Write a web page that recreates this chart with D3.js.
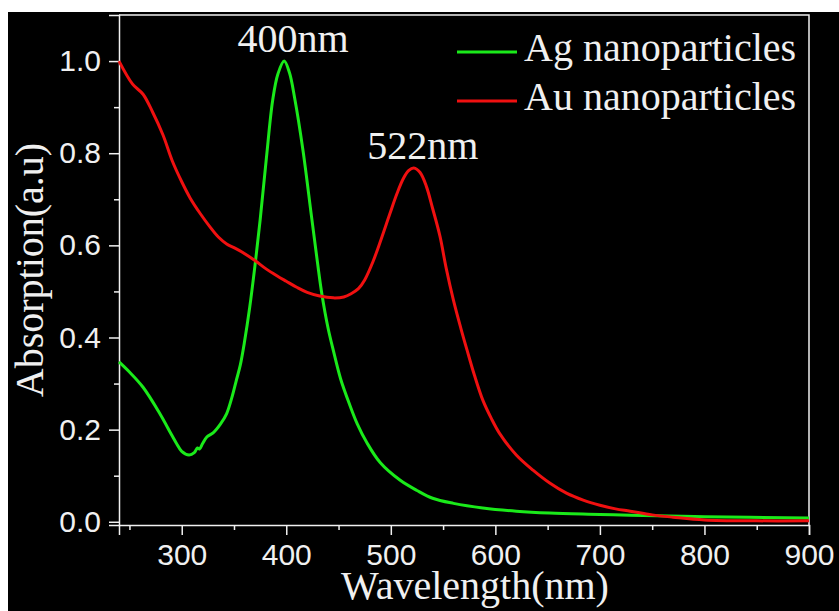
<!DOCTYPE html>
<html>
<head>
<meta charset="utf-8">
<script src="https://cdn.jsdelivr.net/npm/d3@7"></script>
<style>
  body { margin: 0; background: #fff; }
  svg { display: block; }
</style>
</head>
<body>
<div id="chart"></div>
<script>
// Ag nanoparticles spectrum
const agWavelength = [240, 250, 263, 279, 290, 295, 300, 307, 312, 315, 317, 320, 324, 330, 337, 343, 348, 352, 356, 360, 365, 370, 375, 381, 387, 392, 398, 403, 408, 416, 424, 430, 434, 440, 445, 452, 461, 468, 477, 490, 509, 525, 540, 560, 588, 620, 652, 700, 729, 800, 900];
const agAbsorption = [0.347, 0.325, 0.292, 0.235, 0.19, 0.17, 0.153, 0.145, 0.15, 0.16, 0.158, 0.17, 0.184, 0.193, 0.212, 0.235, 0.27, 0.305, 0.34, 0.39, 0.465, 0.555, 0.655, 0.79, 0.915, 0.972, 1.0, 0.975, 0.92, 0.806, 0.665, 0.56, 0.495, 0.42, 0.372, 0.31, 0.252, 0.212, 0.172, 0.128, 0.09, 0.068, 0.051, 0.04, 0.03, 0.023, 0.019, 0.016, 0.014, 0.011, 0.008];

// Au nanoparticles spectrum
const auWavelength = [240, 253, 263, 272, 282, 291, 300, 308, 318, 327, 335, 343, 350, 358, 370, 380, 391, 400, 410, 420, 432, 445, 455, 462, 469, 475, 483, 491, 499, 506, 512, 517, 522, 528, 534, 540, 547, 553, 560, 567, 573, 580, 588, 596, 604, 620, 636, 652, 668, 684, 700, 715, 729, 750, 770, 800, 850, 900];
const auAbsorption = [1.0, 0.95, 0.928, 0.89, 0.84, 0.783, 0.738, 0.703, 0.668, 0.64, 0.618, 0.603, 0.595, 0.585, 0.567, 0.55, 0.534, 0.522, 0.509, 0.498, 0.49, 0.486, 0.488, 0.495, 0.506, 0.525, 0.565, 0.615, 0.668, 0.713, 0.745, 0.762, 0.768, 0.758, 0.728, 0.68, 0.62, 0.55, 0.48, 0.42, 0.372, 0.318, 0.264, 0.225, 0.192, 0.145, 0.112, 0.084, 0.062, 0.047, 0.036, 0.028, 0.023, 0.015, 0.01, 0.004, 0.002, 0.002];

const xMajor = [300, 400, 500, 600, 700, 800, 900];
const xMinor = [250, 350, 450, 550, 650, 750, 850];
const yMajor = [0.0, 0.2, 0.4, 0.6, 0.8, 1.0];
const yMinor = [0.1, 0.3, 0.5, 0.7, 0.9];

const seriesNames = ['Ag nanoparticles', 'Au nanoparticles'];
const peakLabels = [
  { text: '400nm', wl: 398, value: 1.0 },
  { text: '522nm', wl: 522, value: 0.768 }
];

function drawChart(selector) {
  const width = 839;
  const height = 611;
  const plotLeft = 119, plotRight = 809, plotTop = 15, plotBottom = 525;

  const green = '#1aea1a';
  const red = '#f01010';
  const white = '#f0f0f0';
  const serif = '"Liberation Serif", "Times New Roman", serif';

  const svg = d3.select(selector)
    .append('svg')
      .attr('width', width)
      .attr('height', height);

  // black backdrop
  svg.append('rect')
      .attr('x', 8)
      .attr('y', 12)
      .attr('width', width - 8)
      .attr('height', height - 12)
      .attr('fill', '#000');

  const x = d3.scaleLinear()
    .domain([240, 900])
    .range([plotLeft, plotRight]);

  const y = d3.scaleLinear()
    .domain([-0.007, 1.1])
    .range([plotBottom, plotTop]);

  // frame top and right
  svg.append('path')
      .attr('d', `M${plotLeft},${plotTop}H${plotRight}V${plotBottom}`)
      .attr('fill', 'none')
      .attr('stroke', white)
      .attr('stroke-width', 1.5);

  function styleAxis(g) {
    g.selectAll('.domain').attr('stroke', white).attr('stroke-width', 1.5);
    g.selectAll('.tick line').attr('stroke', white).attr('stroke-width', 1.5);
    g.selectAll('.tick text')
        .attr('fill', white)
        .style('font-family', '"Liberation Sans", Arial, sans-serif')
        .style('font-size', '30px');
  }

  // Bottom axis
  svg.append('g')
      .attr('transform', `translate(0, ${plotBottom})`)
      .call(d3.axisBottom(x).tickValues(xMajor).tickSize(10).tickPadding(9).tickFormat(d3.format('d')))
      .call(styleAxis);

  svg.append('g')
      .attr('transform', `translate(0, ${plotBottom})`)
      .call(d3.axisBottom(x).tickValues(xMinor).tickSize(5).tickFormat(''))
      .call(g => g.select('.domain').remove())
      .call(styleAxis);

  // Left axis
  svg.append('g')
      .attr('transform', `translate(${plotLeft}, 0)`)
      .call(d3.axisLeft(y).tickValues(yMajor).tickSize(10).tickPadding(8).tickFormat(d3.format('.1f')))
      .call(styleAxis);

  svg.append('g')
      .attr('transform', `translate(${plotLeft}, 0)`)
      .call(d3.axisLeft(y).tickValues(yMinor).tickSize(5).tickFormat(''))
      .call(g => g.select('.domain').remove())
      .call(styleAxis);

  const line = d3.line()
    .x(d => x(d[0]))
    .y(d => y(d[1]))
    .curve(d3.curveCatmullRom.alpha(0.5));

  const series = [
    { name: seriesNames[0], color: green, data: d3.zip(agWavelength, agAbsorption) },
    { name: seriesNames[1], color: red, data: d3.zip(auWavelength, auAbsorption) }
  ];

  svg.append('g')
    .selectAll('path')
    .data(series)
    .join('path')
      .attr('d', d => line(d.data))
      .attr('fill', 'none')
      .attr('stroke', d => d.color)
      .attr('stroke-width', 3);

  // peak labels
  svg.append('g')
    .selectAll('text')
    .data(peakLabels)
    .join('text')
      .attr('x', d => x(d.wl) + 9)
      .attr('y', d => y(d.value) - 9)
      .attr('text-anchor', 'middle')
      .attr('fill', white)
      .style('font-family', serif)
      .style('font-size', '40px')
      .text(d => d.text);

  // legend
  const legend = svg.append('g')
    .selectAll('g')
    .data(series)
    .join('g')
      .attr('transform', (d, i) => `translate(457, ${52 + i * 49})`);

  legend.append('line')
      .attr('x1', 0)
      .attr('x2', 60)
      .attr('stroke', d => d.color)
      .attr('stroke-width', 3);

  legend.append('text')
      .attr('x', 67)
      .attr('y', 9)
      .attr('fill', white)
      .style('font-family', serif)
      .style('font-size', '40px')
      .text(d => d.name);

  // axis titles
  svg.append('text')
      .attr('x', 475)
      .attr('y', 599)
      .attr('text-anchor', 'middle')
      .attr('fill', white)
      .style('font-family', serif)
      .style('font-size', '40px')
      .text('Wavelength(nm)');

  svg.append('text')
      .attr('transform', 'translate(43, 270) rotate(-90)')
      .attr('text-anchor', 'middle')
      .attr('fill', white)
      .style('font-family', serif)
      .style('font-size', '40px')
      .text('Absorption(a.u)');
}

drawChart('#chart');
</script>
</body>
</html>
